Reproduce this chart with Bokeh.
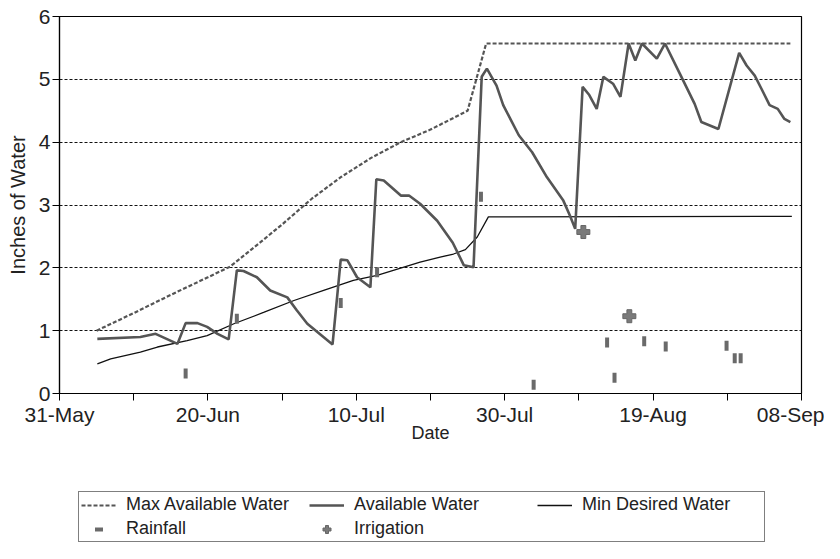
import numpy as np
from bokeh.plotting import figure
from bokeh.models import Range1d, FixedTicker, Legend, LegendItem
from bokeh.layouts import column
from bokeh.embed import file_html
from bokeh.resources import INLINE

# x values are days after 31 May
x_tick_days = [0, 20, 40, 60, 80, 100]
x_tick_labels = ["31-May", "20-Jun", "10-Jul", "30-Jul", "19-Aug", "08-Sep"]
x_minor_days = [10, 30, 50, 70, 90]
y_ticks = [0, 1, 2, 3, 4, 5, 6]

max_day = [5, 10, 15, 20, 23, 27, 30, 34, 38, 42, 46, 50, 55, 57.5, 98.5]
max_water = [1.0, 1.28, 1.57, 1.85, 2.02, 2.40, 2.69, 3.1, 3.45, 3.75, 4.0, 4.2, 4.5, 5.57, 5.57]

avail_day = [5.1, 10.9, 12.95, 15.9, 17, 18.6, 19.9, 21.3, 22.8, 23.9, 24.8, 26.6, 28.4,
             30.7, 32, 33.4, 36.8, 37.9, 38.8, 40.1, 41.9, 42.7, 43.7, 46, 47.1, 48.6,
             50.9, 53, 54.5, 55.8, 56.9, 57.6, 58.9, 59.8, 61.9, 63.7, 65.7, 67.9, 68.8,
             69.5, 70.5, 71.4, 72.4, 73.3, 74.6, 75.6, 76.7, 77.6, 78.5, 80.5, 81.6, 83.6,
             85.6, 86.5, 88.8, 91.6, 92.6, 93.7, 94.6, 95.7, 96.8, 97.7, 98.5]
avail_water = [0.87, 0.90, 0.95, 0.79, 1.12, 1.12, 1.06, 0.95, 0.86, 1.96, 1.95, 1.85, 1.64,
               1.53, 1.32, 1.11, 0.78, 2.13, 2.12, 1.85, 1.69, 3.41, 3.39, 3.15, 3.15, 3.02,
               2.75, 2.4, 2.04, 2.01, 5.04, 5.17, 4.9, 4.59, 4.11, 3.84, 3.44, 3.07, 2.83,
               2.62, 4.88, 4.75, 4.53, 5.04, 4.93, 4.72, 5.57, 5.30, 5.57, 5.33, 5.57, 5.09,
               4.61, 4.32, 4.21, 5.42, 5.22, 5.06, 4.85, 4.59, 4.53, 4.37, 4.32]

min_day = [5.1, 6.9, 10.9, 13.2, 17.2, 19.9, 23.5, 27.5, 31.6, 35.6, 39.6, 42.8, 48.6,
           51.3, 53.1, 54.7, 56.3, 57.8, 98.7]
min_water = [0.47, 0.55, 0.66, 0.74, 0.84, 0.92, 1.11, 1.29, 1.48, 1.64, 1.80, 1.88, 2.09,
             2.17, 2.22, 2.29, 2.49, 2.81, 2.82]

rain_day = [17, 23.9, 37.9, 42.8, 56.8, 63.9, 73.8, 74.8, 78.8, 81.7, 89.9, 91.0, 91.8]
rain_in = [0.32, 1.19, 1.44, 1.93, 3.13, 0.14, 0.81, 0.25, 0.83, 0.75, 0.76, 0.56, 0.56]

irr_day = [70.6, 76.8]
irr_in = [2.57, 1.23]

FONT = "Liberation Sans"
TXT = "#222222"

MAX_STYLE = dict(line_color="#555555", line_width=2.2, line_dash="4 2")
AVAIL_STYLE = dict(line_color="#555555", line_width=2.6)
MIN_STYLE = dict(line_color="#111111", line_width=1.3)
RAIN_STYLE = dict(marker="dash", angle=np.pi / 2, line_color="#6a6a6a", line_width=4)
IRR_STYLE = dict(marker="plus", fill_color="#7a7a7a", line_color="#666666", line_width=1)

W = 824
p = figure(width=W, height=490, output_backend="svg", toolbar_location=None,
           x_range=Range1d(0, 100), y_range=Range1d(0, 6),
           min_border_left=59, min_border_right=23, min_border_top=16, min_border_bottom=97)
p.background_fill_color = "white"
p.border_fill_color = "white"
p.outline_line_color = "black"
p.outline_line_width = 1.2

p.xgrid.visible = False
yt = FixedTicker(ticks=y_ticks)
p.yaxis.ticker = yt
p.ygrid.ticker = yt
p.ygrid.grid_line_color = "#111111"
p.ygrid.grid_line_dash = "3 2"
p.ygrid.grid_line_width = 1.2

p.xaxis.ticker = FixedTicker(ticks=x_tick_days, minor_ticks=x_minor_days)
p.xaxis.major_label_overrides = dict(zip(x_tick_days, x_tick_labels))

for ax in (p.xaxis[0], p.yaxis[0]):
    ax.axis_line_color = "black"
    ax.axis_line_width = 1.2
    ax.major_tick_line_color = "black"
    ax.minor_tick_line_color = "black"
    ax.major_tick_in = 0
    ax.major_tick_out = 7
    ax.minor_tick_in = 0
    ax.minor_tick_out = 7
    ax.major_label_text_font = FONT
    ax.major_label_text_font_size = "21px"
    ax.major_label_text_color = TXT
    ax.axis_label_text_font = FONT
    ax.axis_label_text_font_style = "normal"
    ax.axis_label_text_color = TXT
    ax.major_label_standoff = 2

p.yaxis.minor_tick_out = 0
p.xaxis.axis_label = "Date"
p.xaxis.axis_label_text_font_size = "18px"
p.xaxis.axis_label_standoff = -6
p.yaxis.axis_label = "Inches of Water"
p.yaxis.axis_label_text_font_size = "20px"
p.yaxis.axis_label_standoff = 7

p.line(max_day, max_water, **MAX_STYLE)
p.line(min_day, min_water, **MIN_STYLE)
p.line(avail_day, avail_water, **AVAIL_STYLE)
p.scatter(rain_day, rain_in, size=10, **RAIN_STYLE)
p.scatter(irr_day, irr_in, size=13, **IRR_STYLE)

# legend strip below the chart; its renderers use the same series but lie outside its view
lg = figure(width=W, height=53, output_backend="svg", toolbar_location=None,
            x_range=Range1d(1000, 1001), y_range=Range1d(1000, 1001),
            x_axis_type=None, y_axis_type=None,
            min_border_left=59, min_border_right=23, min_border_top=0, min_border_bottom=0)
lg.outline_line_color = None
lg.background_fill_color = "white"
lg.border_fill_color = "white"

k_max = lg.line(max_day, max_water, **MAX_STYLE)
k_av = lg.line(avail_day, avail_water, **AVAIL_STYLE)
k_min = lg.line(min_day, min_water, **MIN_STYLE)
k_rain = lg.scatter(rain_day, rain_in, **RAIN_STYLE)
k_irr = lg.scatter(irr_day, irr_in, **IRR_STYLE)

legend = Legend(
    items=[LegendItem(label="Max Available Water", renderers=[k_max]),
           LegendItem(label="Available Water", renderers=[k_av]),
           LegendItem(label="Min Desired Water", renderers=[k_min]),
           LegendItem(label="Rainfall", renderers=[k_rain]),
           LegendItem(label="Irrigation", renderers=[k_irr])],
    orientation="horizontal", ncols=3, location=(19, 1),
    border_line_color="black", border_line_width=1.2, background_fill_color="white",
    background_fill_alpha=1, padding=2, spacing=3, margin=0,
    glyph_width=35, glyph_height=20, label_height=20, label_width=180, label_standoff=10,
    label_text_font=FONT, label_text_font_size="18px", label_text_color=TXT)
lg.add_layout(legend)

layout = column(p, lg, spacing=0)
open("out.html", "w").write(file_html(layout, INLINE))
